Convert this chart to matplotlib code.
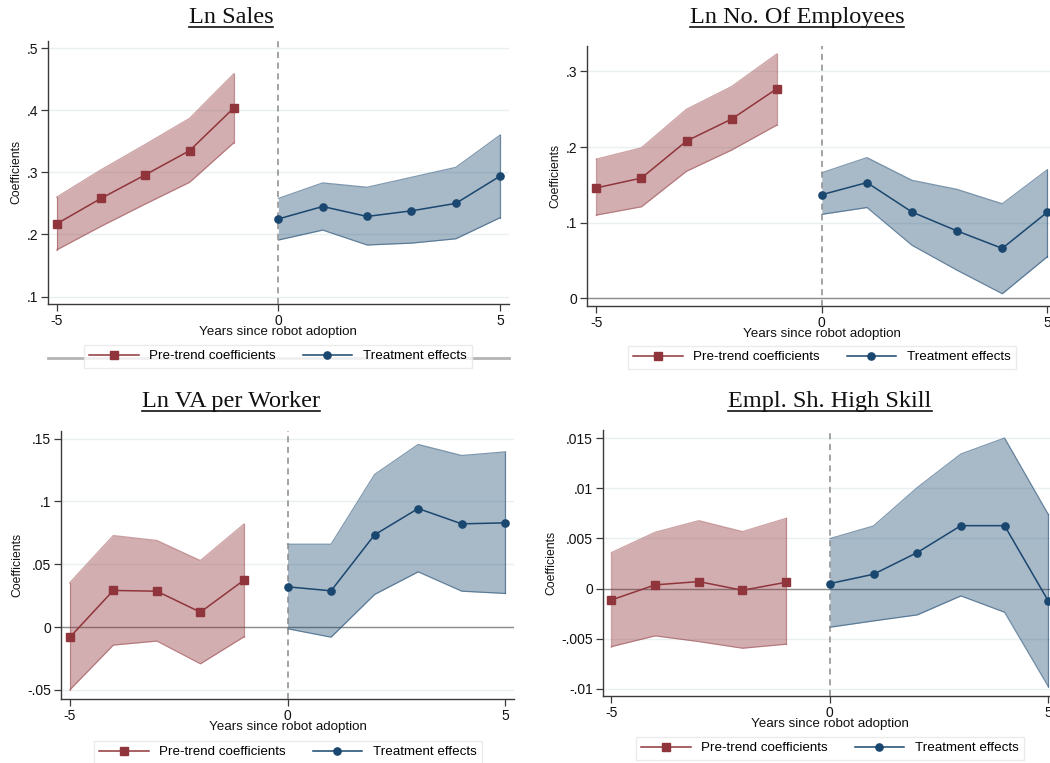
import numpy as np
import matplotlib
matplotlib.use("Agg")
import matplotlib.pyplot as plt
from matplotlib.lines import Line2D
from matplotlib.ticker import FuncFormatter

plt.rcParams['font.family'] = ['Liberation Sans', 'DejaVu Sans']

W, H = 1050, 763

# event-study estimates: leads (pre-trend) and lags (treatment)
years_pre = [-5, -4, -3, -2, -1]
years_post = [0, 1, 2, 3, 4, 5]

sales_pre = [0.217, 0.258, 0.296, 0.335, 0.404]
sales_pre_lo = [0.175, 0.213, 0.249, 0.284, 0.348]
sales_pre_hi = [0.260, 0.304, 0.345, 0.387, 0.459]
sales_post = [0.225, 0.245, 0.229, 0.238, 0.250, 0.294]
sales_post_lo = [0.191, 0.207, 0.183, 0.186, 0.193, 0.227]
sales_post_hi = [0.258, 0.283, 0.276, 0.292, 0.308, 0.360]

emp_pre = [0.146, 0.159, 0.208, 0.237, 0.277]
emp_pre_lo = [0.110, 0.121, 0.168, 0.196, 0.229]
emp_pre_hi = [0.184, 0.199, 0.250, 0.280, 0.323]
emp_post = [0.137, 0.153, 0.114, 0.089, 0.066, 0.114]
emp_post_lo = [0.111, 0.120, 0.070, 0.037, 0.006, 0.055]
emp_post_hi = [0.166, 0.186, 0.156, 0.144, 0.125, 0.170]

va_pre = [-0.0082, 0.0292, 0.0286, 0.0119, 0.0374]
va_pre_lo = [-0.0500, -0.0143, -0.0111, -0.0292, -0.0077]
va_pre_hi = [0.0353, 0.0729, 0.0690, 0.0530, 0.0820]
va_post = [0.0321, 0.0289, 0.0735, 0.0944, 0.0822, 0.0830]
va_post_lo = [-0.0013, -0.0080, 0.0260, 0.0440, 0.0286, 0.0268]
va_post_hi = [0.0660, 0.0660, 0.1215, 0.1454, 0.1366, 0.1395]

hs_pre = [-0.00113, 0.00037, 0.00070, -0.00017, 0.00063]
hs_pre_lo = [-0.00578, -0.00471, -0.00528, -0.00594, -0.00554]
hs_pre_hi = [0.00359, 0.00561, 0.00677, 0.00568, 0.00700]
hs_post = [0.00050, 0.00143, 0.00359, 0.00627, 0.00627, -0.00123]
hs_post_lo = [-0.00385, -0.00322, -0.00262, -0.00073, -0.00236, -0.00976]
hs_post_hi = [0.00498, 0.00624, 0.01006, 0.01341, 0.01500, 0.00740]

titles = ["Ln Sales", "Ln No. Of Employees", "Ln VA per Worker", "Empl. Sh. High Skill"]
yticks_all = [
    [0.1, 0.2, 0.3, 0.4, 0.5],
    [0, 0.1, 0.2, 0.3],
    [-0.05, 0, 0.05, 0.1, 0.15],
    [-0.01, -0.005, 0, 0.005, 0.01, 0.015],
]

MAROON = (144 / 255, 53 / 255, 59 / 255)
NAVY = (26 / 255, 71 / 255, 111 / 255)
GRID = (234 / 255, 240 / 255, 241 / 255)


def stata_fmt(v, pos=None):
    s = f"{round(v, 5):g}"
    if s.startswith("0."):
        s = s[1:]
    elif s.startswith("-0."):
        s = "-" + s[2:]
    return s


def add_px_axes(fig, left, top, right, bottom):
    return fig.add_axes([left / W, 1 - bottom / H, (right - left) / W, (bottom - top) / H])


def draw_panel(ax, pre, pre_lo, pre_hi, post, post_lo, post_hi, yticks, ylim, zero_line):
    ax.fill_between(years_pre, pre_lo, pre_hi, color=MAROON, alpha=0.40, lw=0, zorder=2)
    ax.plot(years_pre, pre_lo, color=MAROON, alpha=0.45, lw=0.9, zorder=2)
    ax.plot(years_pre, pre_hi, color=MAROON, alpha=0.45, lw=0.9, zorder=2)
    ax.plot([years_pre[0]] * 2, [pre_lo[0], pre_hi[0]], color=MAROON, alpha=0.45, lw=0.9, zorder=2)
    ax.plot([years_pre[-1]] * 2, [pre_lo[-1], pre_hi[-1]], color=MAROON, alpha=0.45, lw=0.9, zorder=2)

    ax.fill_between(years_post, post_lo, post_hi, color=NAVY, alpha=0.38, lw=0, zorder=2)
    ax.plot(years_post, post_lo, color=NAVY, alpha=0.55, lw=0.9, zorder=2)
    ax.plot(years_post, post_hi, color=NAVY, alpha=0.55, lw=0.9, zorder=2)
    ax.plot([years_post[-1]] * 2, [post_lo[-1], post_hi[-1]], color=NAVY, alpha=0.55, lw=0.9, zorder=2)

    ax.plot(years_pre, pre, color=MAROON, lw=1.1, marker='s', ms=5.2, zorder=4)
    ax.plot(years_post, post, color=NAVY, lw=1.1, marker='o', ms=5.2, zorder=4)

    ax.axvline(0, color='#8a8a8a', lw=1.1, ls=(0, (4, 3)), zorder=3)
    if zero_line:
        ax.axhline(0, color='#8c8c8c', lw=1.0, zorder=1.5)

    ax.set_xlim(-5.2, 5.2)
    ax.set_ylim(*ylim)
    ax.set_xticks([-5, 0, 5])
    ax.set_xticklabels(["-5", "0", "5"])
    ax.set_yticks(yticks)
    ax.yaxis.set_major_formatter(FuncFormatter(stata_fmt))
    ax.grid(axis='y', color=GRID, lw=1.0, zorder=0)
    ax.set_axisbelow(True)
    for side in ['top', 'right']:
        ax.spines[side].set_visible(False)
    for side in ['left', 'bottom']:
        ax.spines[side].set_color('#3a3a3a')
        ax.spines[side].set_linewidth(1.0)
    ax.tick_params(axis='both', direction='out', length=5, width=0.9, color='#3a3a3a',
                   labelsize=10, labelcolor='#111111', pad=2)
    ax.set_xlabel("Years since robot adoption", fontsize=9.6, labelpad=-1, color='#111111')
    ax.set_ylabel("Coefficients", fontsize=8.8, labelpad=3, color='#111111')


fig = plt.figure(figsize=(W / 100, H / 100), dpi=100)
fig.patch.set_facecolor('white')

ax1 = add_px_axes(fig, 47.7, 40.7, 509, 304)
draw_panel(ax1, sales_pre, sales_pre_lo, sales_pre_hi, sales_post, sales_post_lo, sales_post_hi,
           yticks_all[0], (0.088, 0.512), False)

ax2 = add_px_axes(fig, 587.3, 45.7, 1056.4, 306)
draw_panel(ax2, emp_pre, emp_pre_lo, emp_pre_hi, emp_post, emp_post_lo, emp_post_hi,
           yticks_all[1], (-0.0102, 0.334), True)

ax3 = add_px_axes(fig, 61, 431, 514, 699)
draw_panel(ax3, va_pre, va_pre_lo, va_pre_hi, va_post, va_post_lo, va_post_hi,
           yticks_all[2], (-0.0572, 0.1561), True)

ax4 = add_px_axes(fig, 602.7, 430, 1057, 696)
draw_panel(ax4, hs_pre, hs_pre_lo, hs_pre_hi, hs_post, hs_post_lo, hs_post_hi,
           yticks_all[3], (-0.0107, 0.0158), True)

# gray rule behind the first legend
fig.add_artist(Line2D([48 / W, 509 / W], [1 - 358 / H] * 2, color='#b4b4b4', lw=2, zorder=0))

handles = [
    Line2D([], [], color=MAROON, lw=1.1, marker='s', ms=5.2),
    Line2D([], [], color=NAVY, lw=1.1, marker='o', ms=5.2),
]
labels = ["Pre-trend coefficients", "Treatment effects"]
legend_centers = [(278, 356), (822, 357), (288, 752), (830, 748)]
for cx, cy in legend_centers:
    leg = fig.legend(handles, labels, loc='center', bbox_to_anchor=(cx / W, 1 - cy / H),
                     ncol=2, fontsize=9.6, frameon=True, fancybox=False, handlelength=3.7,
                     handletextpad=0.8, columnspacing=2.0, borderpad=0.4, borderaxespad=0)
    leg.get_frame().set_edgecolor('#e6e6e6')
    leg.get_frame().set_linewidth(1.0)
    leg.set_zorder(5)

# underlined serif titles
title_pos = [(231, 23), (797, 23), (231, 407), (830, 407)]
title_texts = []
for t, (cx, by) in zip(titles, title_pos):
    txt = fig.text(cx / W, 1 - by / H, t, ha='center', va='baseline', fontsize=17.5,
                   family=['Liberation Serif', 'DejaVu Serif'], color='#111111')
    title_texts.append((txt, by))

fig.canvas.draw()
renderer = fig.canvas.get_renderer()
for txt, by in title_texts:
    bb = txt.get_window_extent(renderer)
    uy = 1 - (by + 3.5) / H
    fig.add_artist(Line2D([bb.x0 / W, bb.x1 / W], [uy, uy], color='#111111', lw=1.2))

fig.savefig("out.png", dpi=100, facecolor='white')
